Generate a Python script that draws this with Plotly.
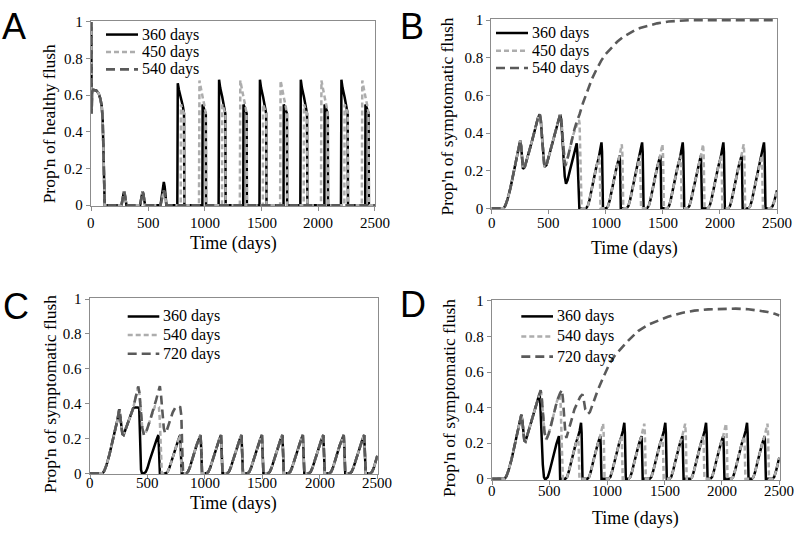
import plotly.graph_objects as go

W, H = 796, 536
SERIF = "Liberation Serif"
SANS = "Liberation Sans"
C_BLACK, C_LIGHT, C_DARK = "#000000", "#adadad", "#5a5a5a"
FRAME = "#8c8c8c"

# ---------------- Panel A : healthy flush (360 / 450 / 540 days) ----------------
A_common_t = [0, 3, 7, 15, 45, 65, 80, 92, 100, 107, 113, 118,
              266, 274, 282, 288, 295, 302, 310,
              430, 438, 446, 452, 459, 466, 474, 610]
A_common_y = [1.0, 0.5, 0.62, 0.63, 0.625, 0.61, 0.58, 0.54, 0.47, 0.3, 0.08, 0.0,
              0.0, 0.035, 0.068, 0.075, 0.06, 0.025, 0.0,
              0.0, 0.035, 0.068, 0.076, 0.06, 0.025, 0.0, 0.0]

A_t_360 = [620, 630, 639, 647, 655, 662,
           758, 762, 772, 790, 807, 817, 820,
           979, 981, 996, 1009, 1011,
           1122, 1126, 1136, 1154, 1171, 1181, 1184,
           1339, 1341, 1356, 1369, 1371,
           1482, 1486, 1496, 1514, 1531, 1541, 1544,
           1694, 1696, 1711, 1724, 1726,
           1842, 1846, 1856, 1874, 1891, 1901, 1904,
           2054, 2056, 2071, 2084, 2086,
           2200, 2204, 2214, 2232, 2249, 2259, 2262,
           2414, 2416, 2431, 2444, 2446,
           2500]
A_y_360 = [0.045, 0.1, 0.127, 0.1, 0.035, 0.0,
           0.0, 0.665, 0.63, 0.59, 0.54, 0.5, 0.0,
           0.0, 0.55, 0.52, 0.5, 0.0,
           0.0, 0.685, 0.64, 0.59, 0.54, 0.5, 0.0,
           0.0, 0.55, 0.52, 0.5, 0.0,
           0.0, 0.685, 0.64, 0.59, 0.54, 0.5, 0.0,
           0.0, 0.55, 0.52, 0.5, 0.0,
           0.0, 0.685, 0.64, 0.59, 0.54, 0.5, 0.0,
           0.0, 0.55, 0.52, 0.5, 0.0,
           0.0, 0.685, 0.64, 0.59, 0.54, 0.5, 0.0,
           0.0, 0.55, 0.52, 0.5, 0.0,
           0.0]

A_t_450 = [620, 630, 639, 647, 655, 662,
           788, 790, 805, 818, 820,
           949, 953, 963, 981, 998, 1008, 1011,
           1152, 1154, 1169, 1182, 1184,
           1309, 1313, 1323, 1341, 1358, 1368, 1371,
           1512, 1514, 1529, 1542, 1544,
           1664, 1668, 1678, 1696, 1713, 1723, 1726,
           1872, 1874, 1889, 1902, 1904,
           2024, 2028, 2038, 2056, 2073, 2083, 2086,
           2230, 2232, 2247, 2260, 2262,
           2384, 2388, 2398, 2416, 2433, 2443, 2446,
           2500]
A_y_450 = [0.035, 0.07, 0.08, 0.065, 0.025, 0.0,
           0.0, 0.55, 0.52, 0.5, 0.0,
           0.0, 0.68, 0.64, 0.59, 0.54, 0.5, 0.0,
           0.0, 0.55, 0.52, 0.5, 0.0,
           0.0, 0.68, 0.64, 0.59, 0.54, 0.5, 0.0,
           0.0, 0.55, 0.52, 0.5, 0.0,
           0.0, 0.68, 0.64, 0.59, 0.54, 0.5, 0.0,
           0.0, 0.55, 0.52, 0.5, 0.0,
           0.0, 0.68, 0.64, 0.59, 0.54, 0.5, 0.0,
           0.0, 0.55, 0.52, 0.5, 0.0,
           0.0, 0.68, 0.64, 0.59, 0.54, 0.5, 0.0,
           0.0]

A_t_540 = [620, 630, 639, 647, 655, 662, 2500]
A_y_540 = [0.035, 0.07, 0.08, 0.065, 0.025, 0.0, 0.0]

# ---------------- Panel B : symptomatic flush (360 / 450 / 540 days) ----------------
B_common_t = [0, 105, 120, 140, 165, 190, 215, 235, 250, 258, 266, 274, 290, 320,
              350, 380, 405, 421, 430, 442, 452, 462, 480, 510, 540, 570, 590, 600]
B_common_y = [0, 0, 0.015, 0.05, 0.11, 0.18, 0.25, 0.31, 0.36, 0.33, 0.26, 0.21, 0.22, 0.28,
              0.35, 0.42, 0.48, 0.5, 0.47, 0.37, 0.27, 0.22, 0.23, 0.3, 0.37, 0.44, 0.49, 0.5]

B_t_360 = [610, 620, 630, 640, 651, 665, 685, 705, 725, 745, 750, 768,
           827, 842, 857, 877, 897, 917, 937, 952, 962, 967, 975,
           1005, 1020, 1035, 1055, 1075, 1095, 1115, 1122, 1126, 1131,
           1183, 1198, 1213, 1233, 1253, 1273, 1293, 1308, 1318, 1323, 1331,
           1361, 1376, 1391, 1411, 1431, 1451, 1471, 1478, 1482, 1487,
           1539, 1554, 1569, 1589, 1609, 1629, 1649, 1664, 1674, 1679, 1687,
           1717, 1732, 1747, 1767, 1787, 1807, 1827, 1834, 1838, 1843,
           1895, 1910, 1925, 1945, 1965, 1985, 2005, 2020, 2030, 2035, 2043,
           2073, 2088, 2103, 2123, 2143, 2163, 2183, 2190, 2194, 2199,
           2251, 2266, 2281, 2301, 2321, 2341, 2361, 2376, 2386, 2391, 2399,
           2445, 2460, 2475, 2490, 2500]
B_y_360 = [0.46, 0.36, 0.25, 0.17, 0.13, 0.15, 0.2, 0.25, 0.3, 0.345, 0.3, 0.0,
           0, 0.012, 0.045, 0.105, 0.165, 0.22, 0.265, 0.31, 0.35, 0.3, 0,
           0, 0.012, 0.045, 0.105, 0.165, 0.22, 0.265, 0.28, 0.2, 0,
           0, 0.012, 0.045, 0.105, 0.165, 0.22, 0.265, 0.31, 0.35, 0.3, 0,
           0, 0.012, 0.045, 0.105, 0.165, 0.22, 0.265, 0.28, 0.2, 0,
           0, 0.012, 0.045, 0.105, 0.165, 0.22, 0.265, 0.31, 0.35, 0.3, 0,
           0, 0.012, 0.045, 0.105, 0.165, 0.22, 0.265, 0.28, 0.2, 0,
           0, 0.012, 0.045, 0.105, 0.165, 0.22, 0.265, 0.31, 0.35, 0.3, 0,
           0, 0.012, 0.045, 0.105, 0.165, 0.22, 0.265, 0.28, 0.2, 0,
           0, 0.012, 0.045, 0.105, 0.165, 0.22, 0.265, 0.31, 0.35, 0.3, 0,
           0, 0.01, 0.035, 0.07, 0.095]

B_t_450 = [610, 620, 632, 642, 655, 680, 705, 725, 745, 765, 770, 788,
           827, 842, 857, 877, 897, 917, 937, 944, 948, 953,
           1005, 1020, 1035, 1055, 1075, 1095, 1115, 1130, 1140, 1145, 1153,
           1183, 1198, 1213, 1233, 1253, 1273, 1293, 1300, 1304, 1309,
           1361, 1376, 1391, 1411, 1431, 1451, 1471, 1486, 1496, 1501, 1509,
           1539, 1554, 1569, 1589, 1609, 1629, 1649, 1656, 1660, 1665,
           1717, 1732, 1747, 1767, 1787, 1807, 1827, 1842, 1852, 1857, 1865,
           1895, 1910, 1925, 1945, 1965, 1985, 2005, 2012, 2016, 2021,
           2073, 2088, 2103, 2123, 2143, 2163, 2183, 2198, 2208, 2213, 2221,
           2251, 2266, 2281, 2301, 2321, 2341, 2361, 2368, 2372, 2377,
           2445, 2460, 2475, 2490, 2500]
B_y_450 = [0.47, 0.39, 0.28, 0.225, 0.24, 0.31, 0.37, 0.41, 0.44, 0.47, 0.45, 0.0,
           0, 0.012, 0.045, 0.105, 0.165, 0.22, 0.265, 0.28, 0.2, 0,
           0, 0.012, 0.045, 0.105, 0.165, 0.22, 0.265, 0.305, 0.34, 0.29, 0,
           0, 0.012, 0.045, 0.105, 0.165, 0.22, 0.265, 0.28, 0.2, 0,
           0, 0.012, 0.045, 0.105, 0.165, 0.22, 0.265, 0.305, 0.34, 0.29, 0,
           0, 0.012, 0.045, 0.105, 0.165, 0.22, 0.265, 0.28, 0.2, 0,
           0, 0.012, 0.045, 0.105, 0.165, 0.22, 0.265, 0.305, 0.34, 0.29, 0,
           0, 0.012, 0.045, 0.105, 0.165, 0.22, 0.265, 0.28, 0.2, 0,
           0, 0.012, 0.045, 0.105, 0.165, 0.22, 0.265, 0.305, 0.34, 0.29, 0,
           0, 0.012, 0.045, 0.105, 0.165, 0.22, 0.265, 0.28, 0.2, 0,
           0, 0.01, 0.035, 0.07, 0.095]

B_t_540 = [610, 620, 632, 642, 655, 680, 705, 725, 745, 770, 800, 840, 880, 920, 960,
           1000, 1050, 1100, 1150, 1200, 1250, 1300, 1363, 1450, 1550, 1650, 1750, 2500]
B_y_540 = [0.47, 0.39, 0.28, 0.225, 0.24, 0.31, 0.37, 0.42, 0.46, 0.5, 0.56, 0.625, 0.69, 0.74, 0.785,
           0.82, 0.855, 0.885, 0.91, 0.928, 0.945, 0.958, 0.97, 0.983, 0.993, 0.998, 1.0, 1.0]

# ---------------- Panel C : symptomatic flush (360 / 540 / 720 days) ----------------
C_common_t = [0, 110, 125, 145, 170, 195, 220, 240, 255, 263, 272, 282, 292, 320, 350, 375]
C_common_y = [0, 0, 0.015, 0.05, 0.11, 0.18, 0.25, 0.31, 0.368, 0.33, 0.27, 0.225, 0.22, 0.27, 0.33, 0.372]

C_teeth_t = [837, 852, 867, 887, 907, 927, 947, 962, 967, 975,
             1015, 1030, 1045, 1065, 1085, 1105, 1125, 1140, 1145, 1153,
             1193, 1208, 1223, 1243, 1263, 1283, 1303, 1318, 1323, 1331,
             1371, 1386, 1401, 1421, 1441, 1461, 1481, 1496, 1501, 1509,
             1549, 1564, 1579, 1599, 1619, 1639, 1659, 1674, 1679, 1687,
             1727, 1742, 1757, 1777, 1797, 1817, 1837, 1852, 1857, 1865,
             1905, 1920, 1935, 1955, 1975, 1995, 2015, 2030, 2035, 2043,
             2083, 2098, 2113, 2133, 2153, 2173, 2193, 2208, 2213, 2221,
             2261, 2276, 2291, 2311, 2331, 2351, 2371, 2386, 2391, 2399,
             2439, 2454, 2469, 2489, 2500]
C_teeth_y = [0, 0.008, 0.03, 0.075, 0.12, 0.16, 0.195, 0.22, 0.15, 0,
             0, 0.008, 0.03, 0.075, 0.12, 0.16, 0.195, 0.22, 0.15, 0,
             0, 0.008, 0.03, 0.075, 0.12, 0.16, 0.195, 0.22, 0.15, 0,
             0, 0.008, 0.03, 0.075, 0.12, 0.16, 0.195, 0.22, 0.15, 0,
             0, 0.008, 0.03, 0.075, 0.12, 0.16, 0.195, 0.22, 0.15, 0,
             0, 0.008, 0.03, 0.075, 0.12, 0.16, 0.195, 0.22, 0.15, 0,
             0, 0.008, 0.03, 0.075, 0.12, 0.16, 0.195, 0.22, 0.15, 0,
             0, 0.008, 0.03, 0.075, 0.12, 0.16, 0.195, 0.22, 0.15, 0,
             0, 0.008, 0.03, 0.075, 0.12, 0.16, 0.195, 0.22, 0.15, 0,
             0, 0.008, 0.03, 0.075, 0.1]

C_t_360 = [385, 400, 415, 428, 436, 444, 452,
           470, 485, 500, 520, 540, 560, 580, 595, 600, 608,
           660, 675, 690, 710, 730, 750, 770, 785, 790, 798]
C_y_360 = [0.378, 0.38, 0.378, 0.375, 0.2, 0.02, 0.0,
           0, 0.008, 0.03, 0.075, 0.12, 0.16, 0.195, 0.22, 0.15, 0,
           0, 0.008, 0.03, 0.075, 0.12, 0.16, 0.195, 0.22, 0.15, 0]

C_t_540 = [395, 410, 420, 430, 442, 455, 470, 490, 520, 550, 565, 585, 600, 608, 618, 625,
           660, 675, 690, 710, 730, 750, 770, 785, 790, 798]
C_y_540 = [0.43, 0.475, 0.498, 0.46, 0.36, 0.26, 0.22, 0.24, 0.3, 0.36, 0.385, 0.385, 0.38, 0.3, 0.1, 0.0,
           0, 0.008, 0.03, 0.075, 0.12, 0.16, 0.195, 0.22, 0.15, 0]

C_t_720 = [395, 410, 420, 430, 442, 455, 470, 490, 520, 550, 575, 595, 608, 618, 630, 642,
           653, 670, 695, 720, 745, 765, 785, 795, 802, 810]
C_y_720 = [0.43, 0.475, 0.498, 0.46, 0.36, 0.26, 0.22, 0.24, 0.3, 0.36, 0.42, 0.47, 0.5, 0.45, 0.35, 0.26,
           0.23, 0.25, 0.3, 0.35, 0.38, 0.385, 0.38, 0.33, 0.15, 0.0]

# ---------------- Panel D : symptomatic flush (360 / 540 / 720 days) ----------------
D_common_t = [0, 108, 123, 143, 168, 193, 218, 238, 253, 261, 270, 279, 289, 320, 350, 380, 400]
D_common_y = [0, 0, 0.015, 0.05, 0.11, 0.18, 0.25, 0.31, 0.36, 0.33, 0.26, 0.215, 0.21, 0.28, 0.35, 0.42, 0.46]

D_t_360 = [412, 418, 428, 440, 450, 458,
           468, 483, 498, 518, 538, 558, 578, 581, 585, 591,
           636, 651, 666, 686, 706, 726, 746, 761, 773, 778, 786,
           828, 843, 858, 878, 898, 918, 938, 941, 945, 951,
           1013, 1028, 1043, 1063, 1083, 1103, 1123, 1138, 1150, 1155, 1163,
           1187, 1202, 1217, 1237, 1257, 1277, 1297, 1300, 1304, 1310,
           1370, 1385, 1400, 1420, 1440, 1460, 1480, 1495, 1507, 1512, 1520,
           1543, 1558, 1573, 1593, 1613, 1633, 1653, 1656, 1660, 1666,
           1725, 1740, 1755, 1775, 1795, 1815, 1835, 1850, 1862, 1867, 1875,
           1899, 1914, 1929, 1949, 1969, 1989, 2009, 2012, 2016, 2022,
           2082, 2097, 2112, 2132, 2152, 2172, 2192, 2207, 2219, 2224, 2232,
           2260, 2275, 2290, 2310, 2330, 2350, 2370, 2373, 2377, 2383,
           2440, 2455, 2470, 2490, 2500]
D_y_360 = [0.48, 0.42, 0.25, 0.08, 0.01, 0.0,
           0, 0.01, 0.04, 0.095, 0.15, 0.195, 0.235, 0.24, 0.17, 0,
           0, 0.01, 0.04, 0.095, 0.15, 0.195, 0.235, 0.27, 0.315, 0.26, 0,
           0, 0.01, 0.04, 0.095, 0.15, 0.195, 0.235, 0.24, 0.17, 0,
           0, 0.01, 0.04, 0.095, 0.15, 0.195, 0.235, 0.27, 0.315, 0.26, 0,
           0, 0.01, 0.04, 0.095, 0.15, 0.195, 0.235, 0.24, 0.17, 0,
           0, 0.01, 0.04, 0.095, 0.15, 0.195, 0.235, 0.27, 0.315, 0.26, 0,
           0, 0.01, 0.04, 0.095, 0.15, 0.195, 0.235, 0.24, 0.17, 0,
           0, 0.01, 0.04, 0.095, 0.15, 0.195, 0.235, 0.27, 0.315, 0.26, 0,
           0, 0.01, 0.04, 0.095, 0.15, 0.195, 0.235, 0.24, 0.17, 0,
           0, 0.01, 0.04, 0.095, 0.15, 0.195, 0.235, 0.27, 0.315, 0.26, 0,
           0, 0.01, 0.04, 0.095, 0.15, 0.195, 0.235, 0.24, 0.17, 0,
           0, 0.01, 0.04, 0.095, 0.12]

D_t_540 = [412, 421, 430, 442, 455, 470, 490, 515, 540, 565, 587, 595, 605, 615,
           636, 651, 666, 686, 706, 726, 746, 749, 753, 759,
           828, 843, 858, 878, 898, 918, 938, 953, 965, 970, 978,
           1013, 1028, 1043, 1063, 1083, 1103, 1123, 1126, 1130, 1136,
           1187, 1202, 1217, 1237, 1257, 1277, 1297, 1312, 1324, 1329, 1337,
           1370, 1385, 1400, 1420, 1440, 1460, 1480, 1483, 1487, 1493,
           1543, 1558, 1573, 1593, 1613, 1633, 1653, 1668, 1680, 1685, 1693,
           1725, 1740, 1755, 1775, 1795, 1815, 1835, 1838, 1842, 1848,
           1899, 1914, 1929, 1949, 1969, 1989, 2009, 2024, 2036, 2041, 2049,
           2082, 2097, 2112, 2132, 2152, 2172, 2192, 2195, 2199, 2205,
           2260, 2275, 2290, 2310, 2330, 2350, 2370, 2385, 2397, 2402, 2410,
           2440, 2455, 2470, 2490, 2500]
D_y_540 = [0.485, 0.498, 0.46, 0.36, 0.26, 0.22, 0.25, 0.31, 0.38, 0.44, 0.47, 0.42, 0.2, 0.0,
           0, 0.01, 0.04, 0.095, 0.15, 0.195, 0.235, 0.24, 0.17, 0,
           0, 0.01, 0.04, 0.095, 0.15, 0.195, 0.235, 0.27, 0.31, 0.255, 0,
           0, 0.01, 0.04, 0.095, 0.15, 0.195, 0.235, 0.24, 0.17, 0,
           0, 0.01, 0.04, 0.095, 0.15, 0.195, 0.235, 0.27, 0.31, 0.255, 0,
           0, 0.01, 0.04, 0.095, 0.15, 0.195, 0.235, 0.24, 0.17, 0,
           0, 0.01, 0.04, 0.095, 0.15, 0.195, 0.235, 0.27, 0.31, 0.255, 0,
           0, 0.01, 0.04, 0.095, 0.15, 0.195, 0.235, 0.24, 0.17, 0,
           0, 0.01, 0.04, 0.095, 0.15, 0.195, 0.235, 0.27, 0.31, 0.255, 0,
           0, 0.01, 0.04, 0.095, 0.15, 0.195, 0.235, 0.24, 0.17, 0,
           0, 0.01, 0.04, 0.095, 0.15, 0.195, 0.235, 0.27, 0.31, 0.255, 0,
           0, 0.01, 0.04, 0.095, 0.12]

D_t_720 = [412, 421, 430, 442, 455, 470, 490, 515, 540, 565, 590, 606, 615, 625, 636, 645,
           665, 690, 715, 740, 765, 785, 795, 810, 834, 850, 880, 920, 970, 1020,
           1070, 1130, 1182, 1270, 1356, 1450, 1530, 1650, 1760, 1880, 2000, 2120,
           2230, 2320, 2400, 2460, 2500]
D_y_720 = [0.485, 0.498, 0.46, 0.36, 0.26, 0.22, 0.25, 0.31, 0.38, 0.44, 0.48, 0.5, 0.45, 0.35, 0.26, 0.23,
           0.27, 0.33, 0.39, 0.43, 0.46, 0.475, 0.45, 0.39, 0.365, 0.375, 0.43, 0.5, 0.575, 0.645,
           0.695, 0.74, 0.775, 0.83, 0.865, 0.89, 0.91, 0.932, 0.945, 0.952, 0.955, 0.956,
           0.953, 0.946, 0.937, 0.927, 0.918]

# tick labels
X_TICKS = [0, 500, 1000, 1500, 2000, 2500]
X_TICKTEXT = ["0", "500", "1000", "1500", "2000", "2500"]
Y_TICKS = [0, 0.2, 0.4, 0.6, 0.8, 1.0]
Y_TICKTEXT = ["0", "0.2", "0.4", "0.6", "0.8", "1"]

STYLES = [dict(color=C_BLACK, width=2.5, dash="solid"),
          dict(color=C_LIGHT, width=2.5, dash="5px,3px"),
          dict(color=C_DARK, width=2.6, dash="9px,5px")]

panels = [
    dict(letter="A", ytitle="Prop'n of healthy flush", labels=["360 days", "450 days", "540 days"],
         box=(91.3, 15.3, 375.0, 203.5),
         series=[(A_common_t + A_t_360, A_common_y + A_y_360),
                 (A_common_t + A_t_450, A_common_y + A_y_450),
                 (A_common_t + A_t_540, A_common_y + A_y_540)],
         letter_pos=(0, 20), xlab_y=221.7, xtitle_pos=(233, 243), ytitle_pos=(48.5, 120),
         leg_rows=(28.3, 46.3, 64.0), leg_x=(106, 138, 140)),
    dict(letter="B", ytitle="Prop'n of symptomatic flush", labels=["360 days", "450 days", "540 days"],
         box=(491.7, 13.5, 777.0, 206.7),
         series=[(B_common_t + B_t_360, B_common_y + B_y_360),
                 (B_common_t + B_t_450, B_common_y + B_y_450),
                 (B_common_t + B_t_540, B_common_y + B_y_540)],
         letter_pos=(398, 20), xlab_y=221.7, xtitle_pos=(634, 248), ytitle_pos=(447.5, 113),
         leg_rows=(26.7, 45.0, 62.7), leg_x=(496, 528, 530)),
    dict(letter="C", ytitle="Prop'n of symptomatic flush", labels=["360 days", "540 days", "720 days"],
         box=(90.0, 300.0, 377.3, 478.8),
         series=[(C_common_t + C_t_360 + C_teeth_t, C_common_y + C_y_360 + C_teeth_y),
                 (C_common_t + C_t_540 + C_teeth_t, C_common_y + C_y_540 + C_teeth_y),
                 (C_common_t + C_t_720 + C_teeth_t, C_common_y + C_y_720 + C_teeth_y)],
         letter_pos=(1, 307.5), xlab_y=488.3, xtitle_pos=(233.6, 510), ytitle_pos=(49.5, 398),
         leg_rows=(317.7, 336.7, 356.0), leg_x=(127.7, 159.3, 161)),
    dict(letter="D", ytitle="Prop'n of symptomatic flush", labels=["360 days", "540 days", "720 days"],
         box=(492.3, 301.7, 779.3, 484.5),
         series=[(D_common_t + D_t_360, D_common_y + D_y_360),
                 (D_common_t + D_t_540, D_common_y + D_y_540),
                 (D_common_t + D_t_720, D_common_y + D_y_720)],
         letter_pos=(398, 305.5), xlab_y=496.7, xtitle_pos=(635.8, 525), ytitle_pos=(448.5, 402),
         leg_rows=(317.7, 338.3, 359.0), leg_x=(521.3, 553, 555)),
]

XPAD, YPAD = 4, 0.006
fig = go.Figure()
shapes, annotations = [], []
layout_axes = {}


def px(xp):
    return xp / W


def py(yp):
    return 1 - yp / H


for i, p in enumerate(panels):
    suf = "" if i == 0 else str(i + 1)
    L, T, R, B = p["box"]
    sx = (R - L) / 2500.0
    sy = (B - T) / 1.0
    xdom = [px(L - XPAD * sx), px(R + XPAD * sx)]
    ydom = [py(B + YPAD * sy), py(T - YPAD * sy)]
    for (t, y), st in zip(p["series"], STYLES):
        fig.add_trace(go.Scatter(x=t, y=y, mode="lines", line=st, showlegend=False,
                                 hoverinfo="skip", xaxis="x" + suf, yaxis="y" + suf))
    layout_axes["xaxis" + suf] = dict(
        domain=xdom, range=[-XPAD, 2500 + XPAD], anchor="y" + suf,
        tickvals=X_TICKS, showticklabels=False, ticks="outside", ticklen=4, tickwidth=1,
        tickcolor=FRAME, showline=True, mirror=True, linecolor=FRAME, linewidth=1,
        showgrid=False, zeroline=False)
    layout_axes["yaxis" + suf] = dict(
        domain=ydom, range=[-YPAD, 1 + YPAD], anchor="x" + suf,
        tickvals=Y_TICKS, ticktext=Y_TICKTEXT, ticks="outside", ticklen=4, tickwidth=1,
        tickcolor=FRAME, showline=True, mirror=True, linecolor=FRAME, linewidth=1,
        showgrid=False, zeroline=False,
        tickfont=dict(family=SERIF, size=15, color="#000000"))
    # x tick labels (placed to match the reference offsets)
    for tv, tt in zip(X_TICKS, X_TICKTEXT):
        annotations.append(dict(text=tt, xref="x" + suf, yref="paper", x=tv, y=py(p["xlab_y"]),
                                xanchor="center", yanchor="middle", showarrow=False,
                                font=dict(family=SERIF, size=15, color="#000000")))
    # legend (drawn manually)
    x0, x1, xt = p["leg_x"]
    for row, st, lab in zip(p["leg_rows"], STYLES, p["labels"]):
        shapes.append(dict(type="line", xref="paper", yref="paper",
                           x0=px(x0), x1=px(x1), y0=py(row), y1=py(row),
                           line=dict(color=st["color"], width=st["width"], dash=st["dash"])))
        annotations.append(dict(text=lab, xref="paper", yref="paper", x=px(xt), y=py(row),
                                xanchor="left", yanchor="middle", showarrow=False,
                                font=dict(family=SERIF, size=16, color="#000000")))
    # titles
    annotations.append(dict(text="Time (days)", xref="paper", yref="paper",
                            x=px(p["xtitle_pos"][0]), y=py(p["xtitle_pos"][1]),
                            xanchor="center", yanchor="middle", showarrow=False,
                            font=dict(family=SERIF, size=18, color="#000000")))
    annotations.append(dict(text=p["ytitle"], xref="paper", yref="paper",
                            x=px(p["ytitle_pos"][0]), y=py(p["ytitle_pos"][1]),
                            xanchor="center", yanchor="middle", textangle=-90, showarrow=False,
                            font=dict(family=SERIF, size=17.5, color="#000000")))
    annotations.append(dict(text=p["letter"], xref="paper", yref="paper",
                            x=px(p["letter_pos"][0]), y=py(p["letter_pos"][1]),
                            xanchor="left", yanchor="middle", showarrow=False,
                            font=dict(family=SANS, size=36, color="#000000")))

fig.update_layout(width=W, height=H, margin=dict(l=0, r=0, t=0, b=0),
                  paper_bgcolor="white", plot_bgcolor="white", showlegend=False,
                  shapes=shapes, annotations=annotations, **layout_axes)

fig.write_html("out.html", config={"displayModeBar": False},
               post_script="document.body.style.margin='0';document.body.style.overflow='hidden';")
